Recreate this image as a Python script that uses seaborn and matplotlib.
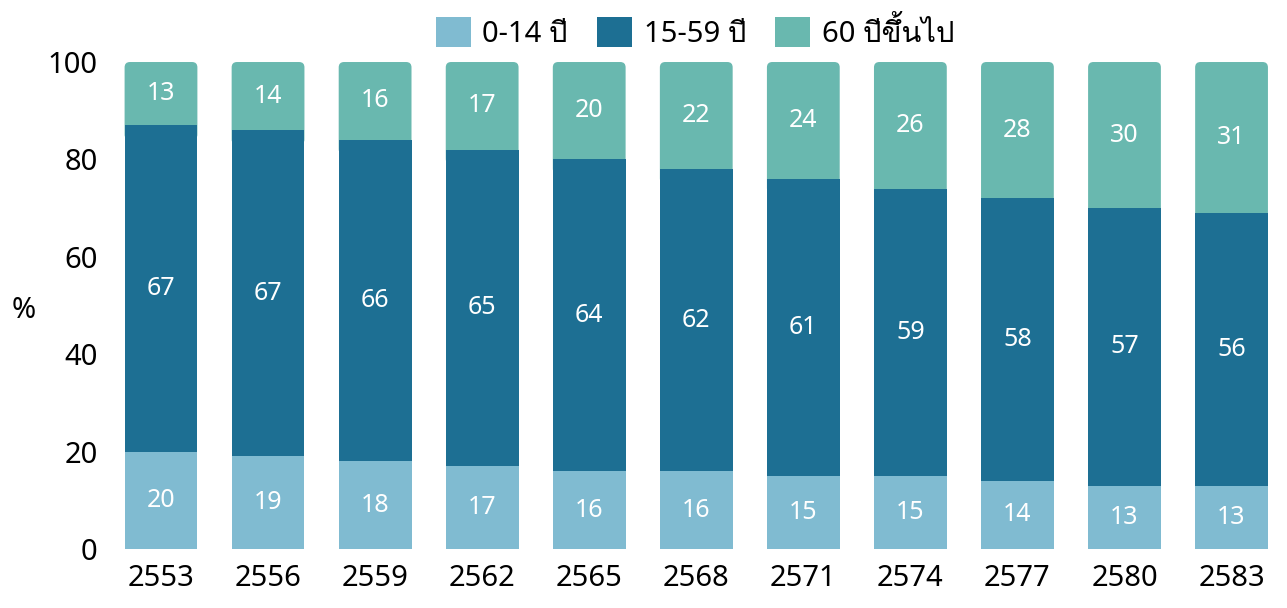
import numpy as np
import pandas as pd
import seaborn as sns
import matplotlib.pyplot as plt
from matplotlib import font_manager
from matplotlib.ft2font import FT2Font
from matplotlib.patches import FancyBboxPatch, Patch

years = ["2553", "2556", "2559", "2562", "2565", "2568", "2571", "2574", "2577", "2580", "2583"]
age_0_14 = [20, 19, 18, 17, 16, 16, 15, 15, 14, 13, 13]
age_15_59 = [67, 67, 66, 65, 64, 62, 61, 59, 58, 57, 56]
age_60 = [13, 14, 16, 17, 20, 22, 24, 26, 28, 30, 31]
total = [100, 100, 100, 100, 100, 100, 100, 100, 100, 100, 100]
labels = ["0-14 ปี", "15-59 ปี", "60 ปีขึ้นไป"]
colors = ["#80BBD1", "#1D6F93", "#69B8AF"]

# find a font that can draw Thai
thai_font = None
for f in font_manager.fontManager.ttflist:
    try:
        if 0x0E1B in FT2Font(f.fname).get_charmap():
            thai_font = f.name
            break
    except Exception:
        pass

sns.set_theme(style="white")
fams = ["Noto Sans"] + ([thai_font] if thai_font else []) + ["DejaVu Sans"]
plt.rcParams["font.family"] = fams
plt.rcParams["text.color"] = "black"
plt.rcParams["xtick.color"] = "black"
plt.rcParams["ytick.color"] = "black"

df = pd.DataFrame({"year": years, "a": age_0_14, "b": age_15_59, "c": age_60, "total": total})
df["top_b"] = df["a"] + df["b"]

fig = plt.figure(figsize=(12.87, 6.08), dpi=100)
ax = fig.add_axes([0.0835, 0.097, 0.915, 0.801])

bar_kw = dict(width=0.68, saturation=1, ax=ax, linewidth=0, edgecolor="none")
sns.barplot(data=df, x="year", y="total", color=colors[2], zorder=1, **bar_kw)
# round the top corners of the upper segment
for p, tb in zip(list(ax.patches), df["top_b"]):
    x0, w, h = p.get_x(), p.get_width(), p.get_height()
    p.set_visible(False)
    ax.add_patch(FancyBboxPatch((x0, tb - 3), w, h - tb + 3, boxstyle="round,pad=0,rounding_size=0.05",
                                mutation_aspect=22, fc=colors[2], ec="none", lw=0, zorder=1))
sns.barplot(data=df, x="year", y="top_b", color=colors[1], zorder=2, **bar_kw)
sns.barplot(data=df, x="year", y="a", color=colors[0], zorder=3, **bar_kw)

for i in range(len(years)):
    lo = 0
    for v in [age_0_14[i], age_15_59[i]]:
        ax.text(i, lo + v / 2, str(v), ha="center", va="center", color="white", fontsize=18, zorder=5)
        lo += v
    ax.text(i, (lo + total[i]) / 2, str(age_60[i]), ha="center", va="center", color="white",
            fontsize=18, zorder=5)

ax.set_xlim(-0.5, len(years) - 0.5)
ax.set_ylim(0, 100)
ax.set_yticks([0, 20, 40, 60, 80, 100])
ax.tick_params(axis="both", labelsize=21, length=0)
ax.tick_params(axis="y", pad=7)
ax.tick_params(axis="x", pad=11)
ax.set_xlabel("")
ax.set_ylabel("")
fig.text(0.009, 0.49, "%", fontsize=21, ha="left", va="center")
sns.despine(ax=ax, left=True, bottom=True)

handles = [Patch(fc=c, ec="none") for c in colors]
fig.legend(handles, labels, loc="upper center", bbox_to_anchor=(0.54, 1.015), ncol=3, frameon=False,
           fontsize=21, handlelength=1.2, handleheight=1.2, handletextpad=0.4, columnspacing=1.0)

plt.savefig("out.png", dpi=100)
